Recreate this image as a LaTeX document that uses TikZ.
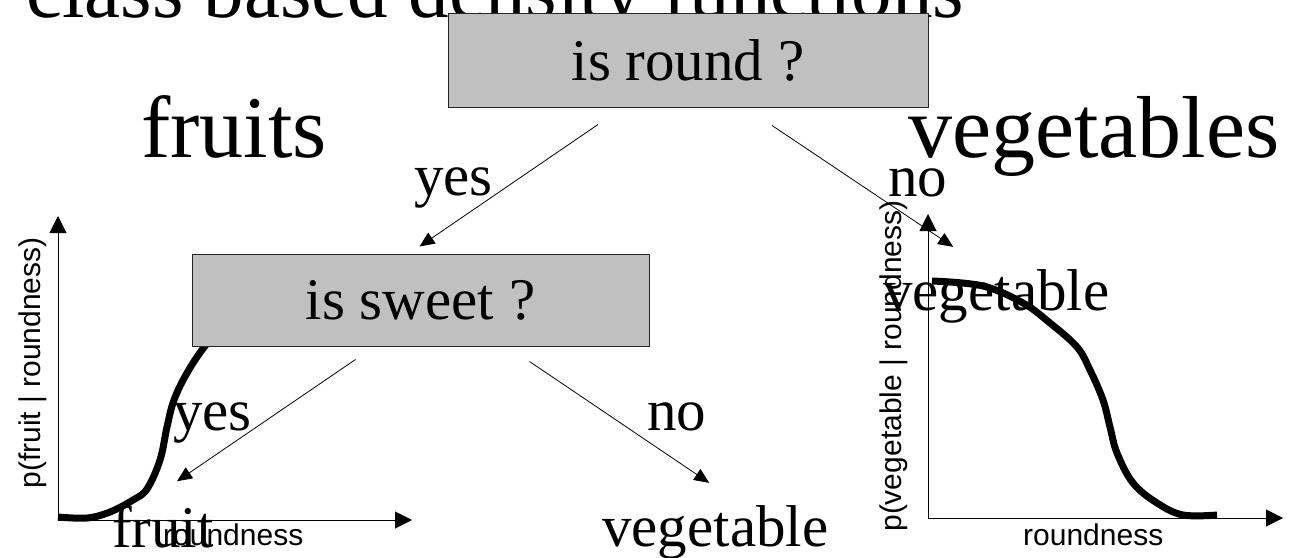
\documentclass[tikz,border=0pt]{standalone}
\usepackage{fontspec}
\setmainfont{Liberation Serif}
\setsansfont{Liberation Sans}
\usepackage{tikz}
\usetikzlibrary{arrows.meta}
\definecolor{boxgray}{RGB}{192, 192, 192}
\newcommand{\bigfont}{\fontsize{88}{88}\selectfont}
\newcommand{\headfont}{\fontsize{81}{81}\selectfont}
\newcommand{\treefont}{\fontsize{59}{59}\selectfont}
\newcommand{\axisfont}{\sffamily\fontsize{30}{30}\selectfont}

\begin{document}
\begin{tikzpicture}[x=1pt, y=-1pt,
    question/.style={draw=black!85, line width=1pt, fill=boxgray, font=\treefont, inner sep=0},
    word/.style={anchor=base west, inner sep=0, font=\treefont},
    branch/.style={line width=0.8pt, -{Triangle[length=15pt, width=13pt]}},
    axisline/.style={line width=1pt, -{Triangle[length=17pt, width=17pt]}},
    density/.style={line width=7pt}]
        \useasboundingbox (0,0) rectangle (1296,557);
        % Title (cut at the top)
        \node[anchor=base west, inner sep=0, font=\headfont] (title) at (26,17) {class based density functions};
        % Root question
        \node[question, minimum width=480pt, minimum height=94pt] (round) at (688,60) {is round ?};
        % Class names
        \node[anchor=base west, inner sep=0, font=\bigfont] (fruits) at (141,157) {fruits};
        \node[anchor=base west, inner sep=0, font=\bigfont] (vegetables) at (908,157) {vegetables};
        % Leaves
        \node[word] (fruit) at (112,547) {fruit};
        \node[word] (vegleaf) at (602,546) {vegetable};
        \node[word] (vegtop) at (883,310) {vegetable};
        % Left density: p(fruit | roundness)
        \draw[axisline] (58,520) -- (58,216);
        \draw[axisline] (58,520) -- (412,520);
        \node[rotate=90, font=\axisfont, inner sep=0] (fruitaxis) at (33,363) {p(fruit | roundness)};
        \node[anchor=base west, inner sep=0, font=\axisfont] (fruitround) at (163,545) {roundness};
        \draw[density] plot[smooth, tension=0.6] coordinates {(58,517) (87,518) (110,512) (133,500) (147,489)
          (160,460) (167,427) (174,400) (187,373) (205,346) (230,318) (260,296) (300,282)};
        % Right density: p(vegetable | roundness)
        \draw[axisline] (928,518) -- (928,214);
        \draw[axisline] (928,518) -- (1283,518);
        \node[rotate=90, font=\axisfont, inner sep=0] (vegaxis) at (894,366) {p(vegetable | roundness)};
        \node[anchor=base west, inner sep=0, font=\axisfont] (veground) at (1023,545) {roundness};
        \draw[density] plot[smooth, tension=0.6] coordinates {(932,281) (983,286) (1023,303) (1050,323)
          (1077,347) (1090,370) (1103,400) (1110,427) (1117,453) (1133,483) (1157,503) (1183,515) (1217,515)};
        % Second question
        \node[question, minimum width=457pt, minimum height=92pt] (sweet) at (420.5,300) {is sweet ?};
        % Branches
        \draw[branch] ([xshift=-90pt, yshift=-17pt]round.south) -- ([xshift=-1pt, yshift=7pt]sweet.north);
        \draw[branch] ([xshift=84pt, yshift=-18pt]round.south) -- ([xshift=-43pt, yshift=22pt]vegtop.north);
        \draw[branch] ([xshift=-65pt, yshift=-13pt]sweet.south) -- ([xshift=14pt, yshift=24pt]fruit.north);
        \draw[branch] ([xshift=109pt, yshift=-15pt]sweet.south) -- ([xshift=-6pt, yshift=22pt]vegleaf.north);
        % Branch labels
        \node[word] (yesround) at (414,195) {yes};
        \node[word] (noround) at (888,196) {no};
        \node[word] (yessweet) at (173,430) {yes};
        \node[word] (nosweet) at (647,430) {no};
      \end{tikzpicture}
\end{document}
